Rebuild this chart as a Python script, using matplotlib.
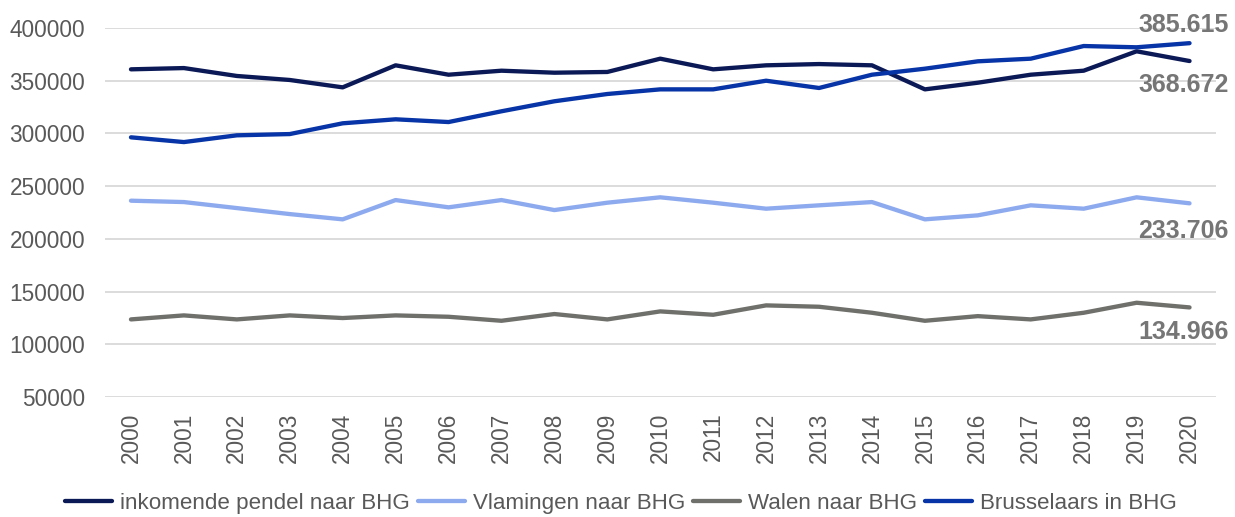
import matplotlib
matplotlib.use("Agg")
import matplotlib.pyplot as plt

years = list(range(2000, 2021))
year_labels = [str(y) for y in years]

inkomende = [360800, 362000, 354500, 350700, 343700, 364600, 355700, 359500, 357600, 358300,
             370900, 360800, 364600, 365800, 364600, 341800, 348100, 355700, 359500, 377900, 368672]
vlamingen = [236200, 234900, 229200, 223500, 218500, 236800, 229900, 236800, 227300, 234300,
             239400, 234300, 228600, 231800, 234900, 218500, 222300, 231800, 228600, 239400, 233706]
walen = [123600, 127400, 123600, 127400, 124900, 127400, 126100, 122300, 128700, 123600,
         131200, 128000, 136900, 135600, 129900, 122300, 126700, 123600, 129900, 139400, 134966]
brusselaars = [296300, 291800, 298200, 299400, 309600, 313400, 310800, 321000, 330500, 337400,
               341800, 341800, 350000, 343100, 355700, 361400, 368400, 370900, 382900, 381700, 385615]

series_names = ["inkomende pendel naar BHG", "Vlamingen naar BHG", "Walen naar BHG", "Brusselaars in BHG"]
end_labels = ["368.672", "233.706", "134.966", "385.615"]

plt.rcParams['font.family'] = ['Liberation Sans', 'DejaVu Sans']

colors = ["#0b1957", "#8eaaee", "#6f706b", "#0734a6"]
label_offsets = [(28, -17), (28, -20), (28, -18), (28, 13)]

fig = plt.figure(figsize=(12.35, 5.17), dpi=100)
ax = fig.add_axes([104.5/1235, 1-397/517, (1216-104.5)/1235, (397-28)/517])

data = [inkomende, vlamingen, walen, brusselaars]
x = list(range(len(years)))
for vals, name, c in zip(data, series_names, colors):
    ax.plot(x, vals, color=c, lw=3.1, solid_capstyle='round', solid_joinstyle='round', label=name, zorder=3)

for vals, lab, off in zip(data, end_labels, label_offsets):
    ax.annotate(lab, xy=(x[-1], vals[-1]), xytext=off, textcoords='offset points',
                ha='right', va='center', fontsize=18, fontweight='bold', color='#767676',
                annotation_clip=False, zorder=4)

ax.set_xlim(-0.5, len(years) - 0.5)
ax.set_ylim(50000, 400000)
ax.set_yticks(range(50000, 400001, 50000))
ax.set_yticklabels([str(v) for v in range(50000, 400001, 50000)])
ax.set_xticks(x)
ax.set_xticklabels(year_labels, rotation=90)
ax.grid(axis='y', color='#d9d9d9', lw=1.3)
ax.set_axisbelow(True)
for s in ax.spines.values():
    s.set_visible(False)
ax.tick_params(axis='both', length=0, labelsize=16.3, colors='#595959')
ax.tick_params(axis='y', pad=14)
ax.tick_params(axis='x', pad=11)

fig.legend(loc='center', bbox_to_anchor=(0.503, 0.026), ncol=4, frameon=False,
           fontsize=16.1, handlelength=2.1, handletextpad=0.36, columnspacing=0.36,
           labelcolor='#595959', borderpad=0.0)

fig.savefig("out.png", dpi=100)
